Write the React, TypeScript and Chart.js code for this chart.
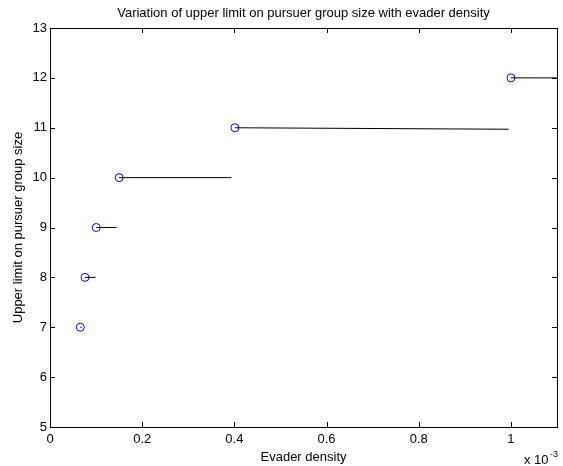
import React, { useEffect, useRef } from "react";
import { Chart, registerables } from "chart.js";
Chart.register(...registerables);

// Evader density in units of 1e-3
const density = [0.0657, 0.0758, 0.1003, 0.15, 0.401, 1.0];
const groupSize = [7, 8, 9, 10, 11, 12];
const segmentEnd = [0.069, 0.099, 0.1445, 0.3937, 0.995, 1.1];
const segmentEndSize = [7, 8, 9, 10, 10.97, 12];
const xTicks = [0, 0.2, 0.4, 0.6, 0.8, 1];
const yTicks = [5, 6, 7, 8, 9, 10, 11, 12, 13];

const FONT = "Liberation Sans, Arial, sans-serif";

const frame = {
  id: "frame",
  afterDraw(chart: any) {
    const { ctx, chartArea: a, scales } = chart;
    const x = scales.x, y = scales.y;
    ctx.save();
    ctx.strokeStyle = "#000";
    ctx.lineWidth = 1;
    ctx.strokeRect(Math.round(a.left) + 0.5, Math.round(a.top) + 0.5, Math.round(a.right - a.left), Math.round(a.bottom - a.top));
    ctx.beginPath();
    const L = 5;
    for (const t of xTicks) {
      const px = Math.round(x.getPixelForValue(t)) + 0.5;
      ctx.moveTo(px, a.bottom); ctx.lineTo(px, a.bottom - L);
      ctx.moveTo(px, a.top); ctx.lineTo(px, a.top + L);
    }
    for (const t of yTicks) {
      const py = Math.round(y.getPixelForValue(t)) + 0.5;
      ctx.moveTo(a.left, py); ctx.lineTo(a.left + L, py);
      ctx.moveTo(a.right, py); ctx.lineTo(a.right - L, py);
    }
    ctx.stroke();
    ctx.fillStyle = "#000";
    ctx.font = `13px ${FONT}`;
    ctx.textAlign = "center";
    ctx.textBaseline = "middle";
    ctx.fillText("Variation of upper limit on pursuer group size with evader density", (a.left + a.right) / 2, 13);
    ctx.fillText("Evader density", (a.left + a.right) / 2, 457);
    ctx.save();
    ctx.translate(18, (a.top + a.bottom) / 2);
    ctx.rotate(-Math.PI / 2);
    ctx.fillText("Upper limit on pursuer group size", 0, 0);
    ctx.restore();
    ctx.textAlign = "left";
    ctx.textBaseline = "alphabetic";
    ctx.fillText("x 10", 524, 464);
    ctx.font = `9px ${FONT}`;
    ctx.fillText("-3", 550, 457);
    ctx.restore();
  },
};

export default function App() {
  const ref = useRef<HTMLCanvasElement>(null);
  useEffect(() => {
    document.body.style.margin = "0";
    const segData: any[] = [];
    density.forEach((d, i) => {
      segData.push({ x: d, y: groupSize[i] });
      segData.push({ x: segmentEnd[i], y: segmentEndSize[i] });
      segData.push({ x: segmentEnd[i], y: null });
    });
    const chart = new Chart(ref.current!, {
      type: "scatter",
      data: {
        datasets: [
          {
            type: "line",
            data: segData,
            borderColor: "#000",
            borderWidth: 1,
            pointRadius: 0,
            spanGaps: false,
            fill: false,
          } as any,
          {
            data: density.map((d, i) => ({ x: d, y: groupSize[i] })),
            borderColor: "#0000ff",
            backgroundColor: "rgba(0,0,0,0)",
            pointRadius: 4,
            borderWidth: 1,
            pointStyle: "circle",
          },
        ],
      },
      options: {
        animation: false,
        responsive: false,
        layout: { padding: { left: 0, right: 6, top: 28, bottom: 0 } },
        plugins: { legend: { display: false }, tooltip: { enabled: false }, title: { display: false } },
        scales: {
          x: {
            type: "linear",
            min: 0,
            max: 1.1,
            grid: { display: false, drawTicks: false },
            border: { display: false },
            afterFit: (s: any) => { s.height = 39; },
            afterBuildTicks: (s: any) => { s.ticks = xTicks.map((v) => ({ value: v })); },
            ticks: {
              color: "#000",
              font: { family: FONT, size: 13 },
              padding: 5,
              maxRotation: 0,
              callback: (v: any) => String(v),
            },
          },
          y: {
            min: 5,
            max: 13,
            grid: { display: false, drawTicks: false },
            border: { display: false },
            afterFit: (s: any) => { s.width = 50; },
            afterBuildTicks: (s: any) => { s.ticks = yTicks.map((v) => ({ value: v })); },
            ticks: {
              color: "#000",
              font: { family: FONT, size: 13 },
              padding: 3,
              callback: (v: any) => String(v),
            },
          },
        },
      },
      plugins: [frame],
    });
    return () => chart.destroy();
  }, []);
  return <canvas ref={ref} width={563} height={466} style={{ display: "block" }} />;
}
